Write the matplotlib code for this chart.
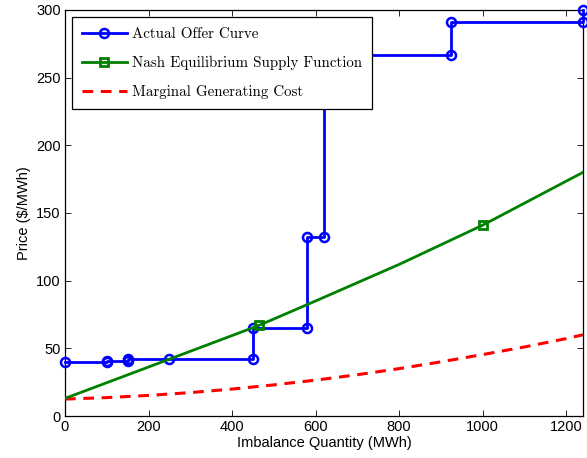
import matplotlib
matplotlib.use("Agg")
import matplotlib.pyplot as plt

# Actual offer curve (stepwise bids)
offer_q = [0, 100, 100, 150, 150, 250, 450, 450, 580, 580, 620, 620, 925, 925, 1240, 1240]
offer_p = [40, 40, 41, 41, 42, 42, 42, 65, 65, 132, 132, 267, 267, 291, 291, 300]

# Nash equilibrium supply function
nash_q = [0, 250, 465, 600, 800, 1000, 1240]
nash_p = [13, 42, 67, 85, 112, 141, 180]
nash_marked = [2, 5]

# Marginal generating cost
cost_q = [0, 100, 200, 300, 400, 500, 600, 700, 800, 900, 1000, 1100, 1200, 1240]
cost_p = [12.5, 13.6, 15.2, 17.3, 19.9, 23.0, 26.5, 30.5, 35.0, 40.0, 45.4, 51.0, 57.2, 60.0]

x_ticks = [0, 200, 400, 600, 800, 1000, 1200]
y_ticks = [0, 50, 100, 150, 200, 250, 300]

fig = plt.figure(figsize=(5.87, 4.58), dpi=100)
ax = fig.add_axes([0.1107, 0.0917, 0.8823, 0.8865])

ax.plot(offer_q, offer_p, color="#0000ff", lw=2.0, marker="o", markersize=6.5,
        markerfacecolor="none", markeredgewidth=1.8, label="Actual Offer Curve",
        clip_on=False, zorder=3)
ax.plot(nash_q, nash_p, color="#008000", lw=2.0, marker="s", markersize=5.5,
        markerfacecolor="none", markeredgewidth=2.0, markevery=nash_marked,
        label="Nash Equilibrium Supply Function", zorder=4)
ax.plot(cost_q, cost_p, color="#ff0000", lw=2.2, ls=(0, (3.5, 2.5)),
        label="Marginal Generating Cost", zorder=2)

ax.set_xlim(0, 1240)
ax.set_ylim(0, 300)
ax.set_xticks(x_ticks)
ax.set_yticks(y_ticks)

tick_font = {"family": "Liberation Sans", "size": 10.5}
ax.set_xticklabels([str(t) for t in x_ticks], fontdict=tick_font)
ax.set_yticklabels([str(t) for t in y_ticks], fontdict=tick_font)
ax.tick_params(direction="in", length=4, width=0.6, top=True, right=True,
               pad=3, colors="black")
for s in ax.spines.values():
    s.set_linewidth(0.9)

ax.set_xlabel("Imbalance Quantity (MWh)", family="Liberation Sans", fontsize=10.5, labelpad=1)
ax.set_ylabel("Price ($/MWh)", family="Liberation Sans", fontsize=10.5, labelpad=4)

leg = ax.legend(loc="upper left", bbox_to_anchor=(0.013, 0.983),
                prop={"family": "cmr10", "size": 10.8}, frameon=True, framealpha=1.0,
                fancybox=False, shadow=False, handlelength=3.0, handletextpad=0.35,
                borderpad=0.68, labelspacing=1.0, borderaxespad=0.0)
leg.get_frame().set_edgecolor("black")
leg.get_frame().set_linewidth(0.9)
leg.set_zorder(5)

fig.savefig("out.png", dpi=100)
